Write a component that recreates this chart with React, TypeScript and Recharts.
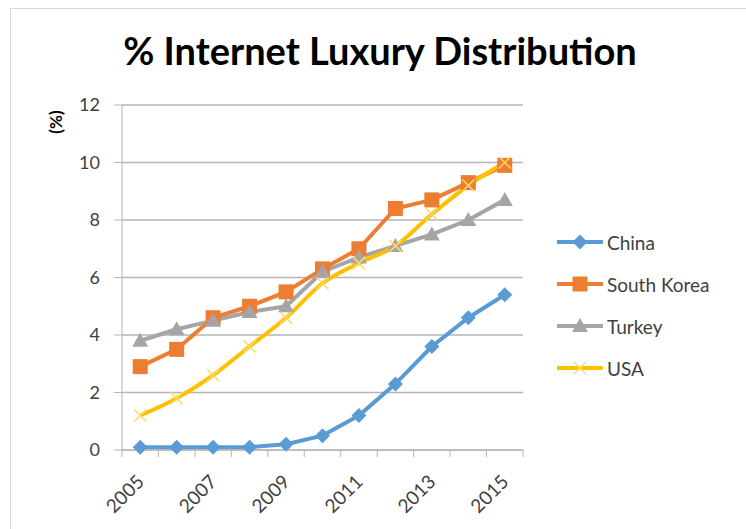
import { LineChart, Line, XAxis, YAxis, CartesianGrid } from "recharts";

const years = ["2005", "2006", "2007", "2008", "2009", "2010", "2011", "2012", "2013", "2014", "2015"];
const china = [0.1, 0.1, 0.1, 0.1, 0.2, 0.5, 1.2, 2.3, 3.6, 4.6, 5.4];
const southKorea = [2.9, 3.5, 4.6, 5.0, 5.5, 6.3, 7.0, 8.4, 8.7, 9.3, 9.9];
const turkey = [3.8, 4.2, 4.5, 4.8, 5.0, 6.2, 6.7, 7.1, 7.5, 8.0, 8.7];
const usa = [1.2, 1.8, 2.6, 3.6, 4.6, 5.8, 6.5, 7.1, 8.2, 9.2, 10.0];
const yTicks = [0, 2, 4, 6, 8, 10, 12];

const data = years.map((year, i) => ({
  year,
  China: china[i],
  "South Korea": southKorea[i],
  Turkey: turkey[i],
  USA: usa[i],
}));

const FONT = "Lato, 'Open Sans', sans-serif";
const TEXT = "#404040";
const GRID = "#b5b5b5";
const PLOT_LEFT = 122;
const PLOT_RIGHT = 523;
const BAND = (PLOT_RIGHT - PLOT_LEFT) / years.length;

const series = [
  { key: "China", color: "#5B9BD5", marker: "diamond", curve: "linear" },
  { key: "South Korea", color: "#ED7D31", marker: "square", curve: "linear" },
  { key: "Turkey", color: "#A5A5A5", marker: "triangle", curve: "linear" },
  { key: "USA", color: "#FFC000", marker: "x", curve: "monotone" },
];

const marker = (kind: string, color: string, cx: number, cy: number, key?: string) => {
  if (kind === "diamond")
    return <polygon key={key} points={`${cx},${cy - 7.5} ${cx + 7.5},${cy} ${cx},${cy + 7.5} ${cx - 7.5},${cy}`} fill={color} />;
  if (kind === "square") return <rect key={key} x={cx - 7.5} y={cy - 7.5} width={15} height={15} fill={color} />;
  if (kind === "triangle")
    return <polygon key={key} points={`${cx},${cy - 8} ${cx + 8},${cy + 6} ${cx - 8},${cy + 6}`} fill={color} />;
  return (
    <g key={key} stroke="#FFD966" strokeWidth={1.5}>
      <line x1={cx - 6} y1={cy - 6} x2={cx + 6} y2={cy + 6} />
      <line x1={cx - 6} y1={cy + 6} x2={cx + 6} y2={cy - 6} />
    </g>
  );
};

const XTick = (props: any) => {
  const { x, y, payload, index } = props;
  return (
    <g>
      <line x1={x - BAND / 2} x2={x - BAND / 2} y1={y} y2={y + 7} stroke={GRID} />
      {index === years.length - 1 && <line x1={x + BAND / 2} x2={x + BAND / 2} y1={y} y2={y + 7} stroke={GRID} />}
      {index % 2 === 0 && (
        <text
          x={x + 5}
          y={y + 33}
          textAnchor="end"
          transform={`rotate(-45 ${x + 5} ${y + 33})`}
          fill={TEXT}
          fontSize={19}
          fontFamily={FONT}
        >
          {payload.value}
        </text>
      )}
    </g>
  );
};

const LegendBox = () => (
  <div style={{ fontFamily: FONT, fontSize: 19, color: TEXT }}>
    {series.map((s) => (
      <div key={s.key} style={{ display: "flex", alignItems: "center", height: 42 }}>
        <svg width={50} height={20}>
          <line x1={2} x2={48} y1={10} y2={10} stroke={s.color} strokeWidth={4} />
          {marker(s.marker, s.color, 25, 10)}
        </svg>
        <span style={{ marginLeft: 2 }}>{s.key}</span>
      </div>
    ))}
  </div>
);

export default function App() {
  return (
    <div style={{ position: "absolute", left: 0, top: 0, width: 746, height: 529, background: "#fff", overflow: "hidden" }}>
      <div
        style={{
          position: "absolute",
          left: 10,
          top: 8,
          width: 740,
          height: 530,
          borderLeft: "1px solid #d9d9d9",
          borderTop: "1px solid #d9d9d9",
        }}
      />
      <div
        style={{
          position: "absolute",
          left: 0,
          top: 27,
          width: 760,
          textAlign: "center",
          fontFamily: FONT,
          fontWeight: 700,
          fontSize: 38,
          color: "#000",
        }}
      >
        % Internet Luxury Distribution
      </div>
      <div style={{ position: "absolute", left: 0, top: 0 }}>
        <LineChart width={746} height={529} data={data} margin={{ top: 105, right: 746 - PLOT_RIGHT, bottom: 0, left: 0 }}>
          <CartesianGrid horizontal vertical={false} stroke={GRID} strokeWidth={1.5} />
          <XAxis
            dataKey="year"
            interval={0}
            tickSize={0}
            tickMargin={0}
            tickLine={false}
            axisLine={{ stroke: GRID }}
            tick={<XTick />}
            height={79}
            padding={{ left: BAND / 2, right: BAND / 2 }}
          />
          <YAxis
            width={PLOT_LEFT}
            domain={[0, 12]}
            ticks={yTicks}
            tickSize={8}
            tickMargin={14}
            tickLine={{ stroke: GRID }}
            axisLine={{ stroke: GRID }}
            tick={{ fill: TEXT, fontSize: 18, fontFamily: FONT }}
            label={{
              content: () => (
                <text
                  x={62}
                  y={122}
                  textAnchor="middle"
                  transform="rotate(-90 62 122)"
                  fontFamily={FONT}
                  fontWeight={700}
                  fontSize={17}
                  fill="#000"
                >
                  (%)
                </text>
              ),
            }}
          />
          {series.map((s) => (
            <Line
              key={s.key}
              dataKey={s.key}
              type={s.curve as any}
              stroke={s.color}
              strokeWidth={4}
              isAnimationActive={false}
              dot={(p: any) => marker(s.marker, s.color, p.cx, p.cy, `${s.key}-${p.index}`)}
              activeDot={false}
            />
          ))}
        </LineChart>
      </div>
      <div style={{ position: "absolute", left: 555, top: 221 }}>
        <LegendBox />
      </div>
    </div>
  );
}
